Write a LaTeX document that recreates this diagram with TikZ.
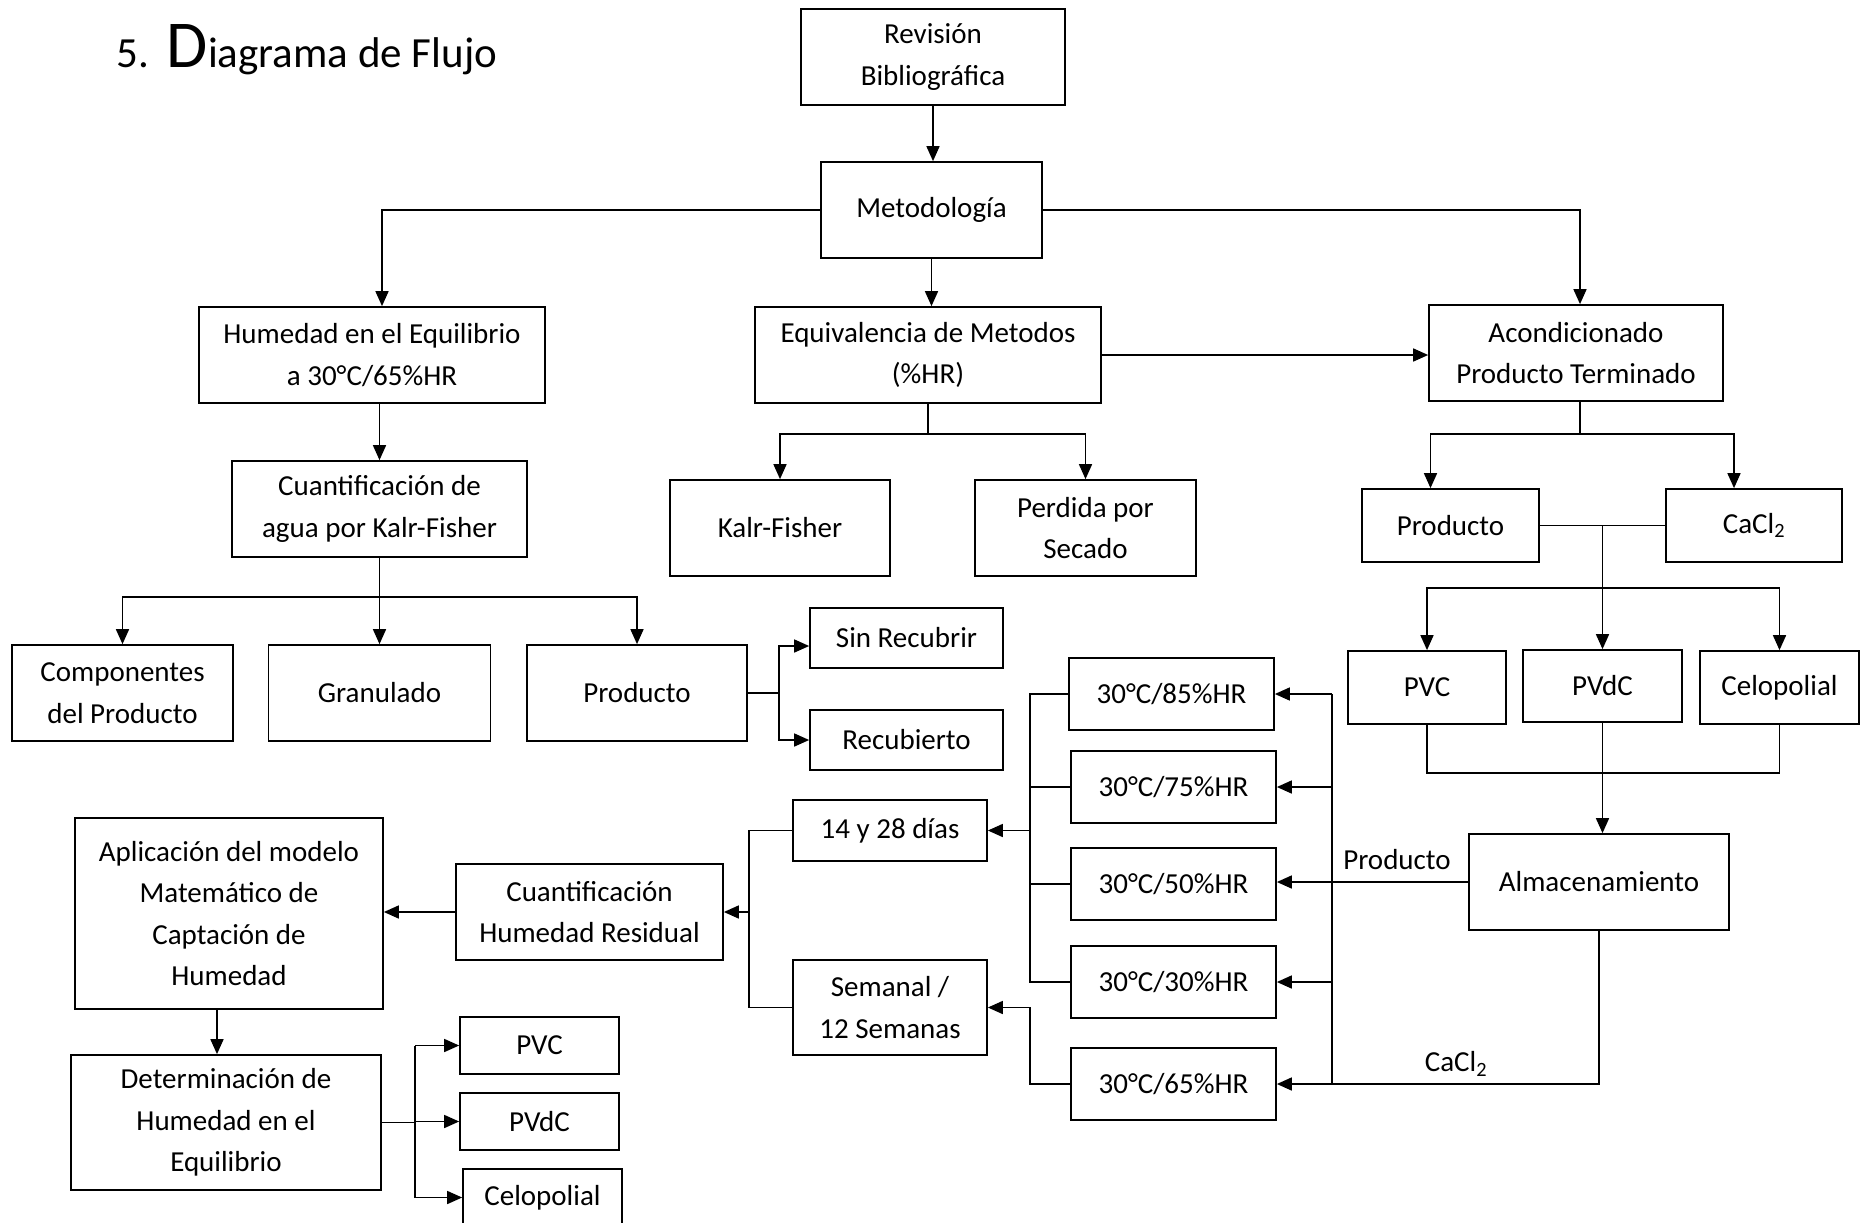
\documentclass[tikz,border=0pt]{standalone}
\usepackage{fontspec}
\setmainfont{Carlito}
\usetikzlibrary{arrows.meta}
\tikzset{
  bx/.style={draw, line width=1.7pt, align=center, inner sep=0pt, font=\fontsize{29}{41.5}\selectfont},
  ln/.style={line width=1.6pt},
  arr/.style={line width=1.6pt, -{Triangle[length=15pt,width=13pt]}},
  lbl/.style={font=\fontsize{29}{40}\selectfont, inner sep=0pt}
}
\newcommand\bx[6]{\node[bx,minimum width=#4pt,minimum height=#5pt] (#1) at (#2,#3) {#6};}
\begin{document}
\begin{tikzpicture}[x=1pt,y=-1pt]
\useasboundingbox (0,0) rectangle (1860,1223);
\fill[white] (0,0) rectangle (1860,1223);
\node[anchor=base west, inner sep=0pt] (title) at (116,67) {\fontsize{43}{43}\selectfont 5.\hspace{18pt}\fontsize{67}{67}\selectfont D\fontsize{43}{43}\selectfont iagrama de Flujo};
% boxes
\bx{rev}{933}{57}{264}{96}{Revisión\\Bibliográfica}
\bx{met}{931.5}{210}{221}{96}{Metodología}
\bx{hum}{372}{355}{346}{96}{Humedad en el Equilibrio\\a 30°C/65\%HR}
\bx{equ}{928}{355}{346}{96}{Equivalencia de Metodos\\(\%HR)}
\bx{aco}{1576}{353}{294}{96}{Acondicionado\\Producto Terminado}
\bx{cua}{379.5}{509}{295}{96}{Cuantificación de\\agua por Kalr-Fisher}
\bx{kf}{780}{528}{220}{96}{Kalr-Fisher}
\bx{per}{1085.5}{528}{221}{96}{Perdida por\\Secado}
\bx{prodR}{1450.5}{525.5}{177}{73}{Producto}
\bx{cacl}{1754}{525.5}{176}{73}{CaCl\textsubscript{2}}
\bx{comp}{122.5}{693}{221}{96}{Componentes\\del Producto}
\bx{gran}{379.5}{693}{222}{96}{Granulado}
\bx{prodL}{637}{693}{220}{96}{Producto}
\bx{sin}{906.5}{638}{193}{60}{Sin Recubrir}
\bx{recu}{906.5}{740}{193}{60}{Recubierto}
\bx{pvcR}{1427}{687.5}{158}{73}{PVC}
\bx{pvdcR}{1602.5}{686}{159}{72}{PVdC}
\bx{celR}{1779.5}{687.5}{159}{73}{Celopolial}
\bx{h85}{1171.5}{694}{205}{72}{30°C/85\%HR}
\bx{h75}{1173.5}{787}{205}{72}{30°C/75\%HR}
\bx{h50}{1173.5}{884}{205}{72}{30°C/50\%HR}
\bx{h30}{1173.5}{982}{205}{72}{30°C/30\%HR}
\bx{h65}{1173.5}{1084}{205}{72}{30°C/65\%HR}
\bx{alm}{1599}{882}{260}{96}{Almacenamiento}
\bx{d14}{890}{830.5}{194}{61}{14 y 28 días}
\bx{sem}{890}{1007.5}{194}{95}{Semanal /\\12 Semanas}
\bx{cuh}{589.5}{912}{267}{96}{Cuantificación\\Humedad Residual}
\bx{apl}{229}{913.5}{308}{191}{Aplicación del modelo\\Matemático de\\Captación de\\Humedad}
\bx{det}{226}{1122.5}{310}{135}{Determinación de\\Humedad en el\\Equilibrio}
\bx{pvcL}{539.5}{1045.5}{159}{57}{PVC}
\bx{pvdcL}{539.5}{1121.5}{159}{57}{PVdC}
\bx{celL}{542.5}{1197.5}{159}{57}{Celopolial}
% labels
\node[lbl] (lprod) at (1397,860) {Producto};
\node[lbl] (lcacl) at (1456,1064) {CaCl\textsubscript{2}};
% helper coordinates
\coordinate (eqj) at ([yshift=-30pt]equ.south);
\coordinate (cuj) at ([yshift=-39pt]cua.south);
\coordinate (pj) at ([xshift=31pt]prodL.east);
\coordinate (acj) at ([xshift=4pt,yshift=-32pt]aco.south);
\coordinate (pc) at (prodR.east -| pvdcR.north);
\coordinate (pj2) at ([yshift=61pt]pvdcR.north);
\coordinate (bj) at ([yshift=-48pt]pvcR.south);
\coordinate (rv) at (1332,0);
\coordinate (lv) at (1030,0);
\coordinate (lv2) at (749,0);
\coordinate (lv3) at (415,0);
% connectors
\draw[arr] (rev.south) -- (rev.south |- met.north);
\draw[arr] (met.west) -| ([xshift=10pt]hum.north);
\draw[arr] (met.south) -- (met.south |- equ.north);
\draw[arr] (met.east) -| ([xshift=4pt]aco.north);
\draw[arr] (equ.east) -- (equ.east -| aco.west);
\draw[arr] (cua.north |- hum.south) -- (cua.north);
\draw[ln] (equ.south) -- (eqj);
\draw[arr] (eqj) -| (kf.north);
\draw[arr] (eqj) -| (per.north);
\draw[ln] (cua.south) -- (cuj);
\draw[arr] (cuj) -| (comp.north);
\draw[arr] (cuj) -- (gran.north);
\draw[arr] (cuj) -| (prodL.north);
\draw[ln] (prodL.east) -- (pj);
\draw[arr] (pj) |- ([yshift=-8pt]sin.west);
\draw[arr] (pj) |- (recu.west);
\draw[ln] ([xshift=4pt]aco.south) -- (acj);
\draw[arr] (acj) -| ([xshift=-20pt]prodR.north);
\draw[arr] (acj) -| ([xshift=-20pt]cacl.north);
\draw[ln] (prodR.east) -- (cacl.west);
\draw[arr] (pc) -- (pvdcR.north);
\draw[arr] (pj2) -| (pvcR.north);
\draw[arr] (pj2) -| (celR.north);
\draw[ln] (pvcR.south) -- (bj) -| (celR.south);
\draw[arr] (pvdcR.south) -- (pvdcR.south |- alm.north);
\draw[arr] (alm.west) -- (alm.west -| h50.east);
\draw[arr] (alm.south) |- (h65.east);
\draw[ln] (rv |- h85.east) -- (rv |- h65.east);
\draw[arr] (rv |- h85.east) -- (h85.east);
\draw[arr] (rv |- h75.east) -- (h75.east);
\draw[arr] (rv |- h30.east) -- (h30.east);
\draw[ln] (h85.west) -| (lv |- h30.west) -- (h30.west);
\draw[ln] (h75.west) -- (lv |- h75.west);
\draw[ln] (h50.west) -- (lv |- h50.west);
\draw[arr] (lv |- d14.east) -- (d14.east);
\draw[arr] (h65.west) -| (lv |- sem.east) -- (sem.east);
\draw[ln] (d14.west) -| (lv2 |- sem.west) -- (sem.west);
\draw[arr] (lv2 |- cuh.east) -- (cuh.east);
\draw[arr] (cuh.west) -- (cuh.west -| apl.east);
\draw[arr] ([xshift=-12pt]apl.south) -- ([xshift=-12pt]apl.south |- det.north);
\draw[ln] (det.east) -- (lv3 |- det.east);
\draw[ln] (lv3 |- pvcL.west) -- (lv3 |- celL.west);
\draw[arr] (lv3 |- pvcL.west) -- (pvcL.west);
\draw[arr] (lv3 |- pvdcL.west) -- (pvdcL.west);
\draw[arr] (lv3 |- celL.west) -- (celL.west);
\end{tikzpicture}
\end{document}
